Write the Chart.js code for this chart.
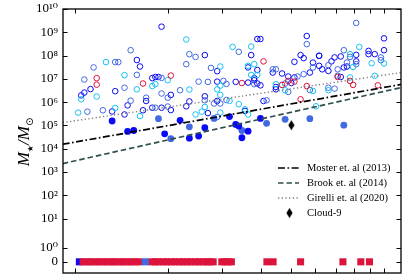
<!DOCTYPE html>
<html>
<head>
<meta charset="utf-8">
<script src="https://cdn.jsdelivr.net/npm/chart.js@4.4.1/dist/chart.umd.min.js"></script>
<style>
  html, body { margin: 0; padding: 0; background: #fff; }
</style>
</head>
<body>
<canvas id="myChart" width="417" height="276"></canvas>
<script>
// all masses are log10(M / Msun)
const openBlueHalo = [9.20, 9.21, 9.05, 9.03, 9.02, 9.13, 9.17, 9.12, 9.16, 9.22, 9.23,
    9.28, 9.42, 9.46, 9.25, 9.26, 9.27, 9.46, 9.52, 9.31, 9.42, 9.46, 9.37, 9.36, 9.28, 9.31, 9.25, 9.43,
    9.59, 9.60, 9.57, 9.73, 9.74, 9.79, 9.71, 9.77, 9.56, 9.59, 9.64, 9.67, 9.69, 9.71, 9.76, 9.58, 9.56,
    9.59, 9.60, 9.58, 9.65, 9.70, 9.65, 9.61, 9.55,
    10.00, 9.95, 9.95, 9.97, 10.00, 9.86, 9.84, 9.91, 9.79, 9.91, 9.83, 9.79, 9.80, 9.82, 9.87, 9.88, 9.86, 9.75];
const openBlueStar = [7.81, 7.53, 6.56, 6.41, 6.29, 6.47, 5.86, 5.60, 5.47, 5.65, 6.05,
    9.24, 8.02, 7.33, 7.03, 7.08, 7.08, 6.88, 6.87, 6.31, 6.25, 6.05, 6.03, 5.82, 5.76, 5.66, 5.76, 5.53,
    8.71, 8.71, 8.02, 8.02, 7.89, 7.99, 7.73, 7.70, 7.49, 7.38, 7.27, 7.23, 7.10, 7.06, 7.27, 7.03, 6.84,
    6.80, 6.72, 6.94, 6.65, 6.82, 6.55, 6.05, 5.62,
    8.74, 8.20, 8.06, 8.06, 8.23, 7.96, 7.92, 8.03, 7.99, 7.75, 7.75, 7.56, 7.41, 7.34, 7.49, 7.53, 7.08, 8.84];

const openRoyalHalo = [9.18, 9.06, 9.13, 9.14, 9.20, 9.03, 9.16, 9.18, 9.04, 9.09, 9.23,
    9.37, 9.39, 9.36, 9.44, 9.28, 9.40, 9.43, 9.48, 9.49, 9.34, 9.28, 9.30, 9.42, 9.49, 9.26, 9.30, 9.45,
    9.47, 9.46, 9.53, 9.75, 9.77, 9.64, 9.65, 9.72, 9.74, 9.58, 9.68, 9.69, 9.76, 9.62,
    9.91, 9.87, 9.89, 9.99, 9.99, 9.88, 9.91, 9.82, 9.85, 9.85, 9.84, 9.82];
const openRoyalStar = [8.23, 7.49, 7.72, 7.72, 7.17, 6.97, 6.62, 6.06, 5.59, 5.65, 6.19,
    8.06, 7.94, 7.63, 7.47, 7.04, 6.88, 6.87, 6.91, 6.78, 6.51, 6.37, 6.19, 6.08, 6.09, 5.76, 5.81, 5.94,
    5.94, 5.36, 8.16, 8.49, 7.49, 7.41, 7.41, 7.10, 7.20, 6.77, 6.80, 6.44, 6.52, 6.08,
    9.40, 8.23, 7.94, 7.92, 7.80, 7.70, 7.63, 7.59, 7.41, 7.13, 6.58, 6.62];

const openCyanHalo = [9.10, 9.16, 9.02, 9.07, 9.20, 9.01, 9.13, 9.21, 9.36, 9.47, 9.51, 9.30, 9.25,
    9.26, 9.47, 9.37, 9.46, 9.47, 9.50, 9.42, 9.39, 9.41, 9.47, 9.57, 9.56, 9.58, 9.57, 9.59, 9.65,
    9.68, 9.77, 9.53, 9.55, 9.56, 9.92, 9.89, 9.96, 10.00, 9.90, 9.89, 9.97, 9.82, 9.78];
const openCyanStar = [7.72, 7.16, 6.12, 6.24, 6.55, 5.55, 5.75, 5.40, 8.69, 7.53, 8.37, 6.94, 6.69,
    6.77, 6.71, 6.54, 6.55, 6.31, 6.05, 5.79, 5.47, 5.59, 5.55, 8.39, 7.56, 7.63, 7.17, 7.17, 6.77,
    6.51, 6.48, 5.91, 5.69, 5.47, 8.37, 8.06, 7.67, 7.66, 7.51, 7.06, 7.13, 6.51, 5.82];

const openRedHalo = [9.07, 9.07, 9.22, 9.31, 9.61, 9.54, 9.67, 9.69, 9.71, 9.75, 9.73, 9.85, 9.89, 9.90, 9.98];
const openRedStar = [7.03, 6.75, 6.80, 7.14, 7.75, 6.82, 6.74, 6.91, 6.88, 6.69, 6.12, 7.08, 6.91, 6.74, 6.72];

const filledBlueHalo = [9.12, 9.17, 9.19, 9.34, 9.42, 9.50, 9.52, 9.29, 9.37, 9.40, 9.60, 9.53, 9.56, 9.54];
const filledBlueStar = [5.19, 4.74, 4.78, 5.22, 4.90, 5.38, 5.04, 4.64, 4.45, 4.54, 5.30, 4.97, 4.75, 4.47];

const filledRoyalHalo = [9.27, 9.37, 9.45, 9.31, 9.62, 9.68, 9.76, 9.54, 9.87];
const filledRoyalStar = [5.29, 4.94, 5.30, 4.43, 5.09, 5.26, 5.29, 4.78, 5.01];

const cloud9Halo = [9.70];
const cloud9Star = [5.01];

// haloes with no stars (plotted on the "0" row)
const zeroRedHalo = [9.026, 9.040, 9.051, 9.066, 9.077, 9.092, 9.103, 9.118, 9.128, 9.143, 9.154,
    9.169, 9.180, 9.195, 9.206, 9.248, 9.260, 9.271, 9.286, 9.297, 9.312, 9.323, 9.338, 9.349,
    9.363, 9.374, 9.389, 9.400, 9.415, 9.426, 9.437, 9.447, 9.475, 9.485, 9.495, 9.506,
    9.621, 9.641, 9.730, 9.867, 9.925, 9.953];
const zeroBlueHalo = [9.014];
const zeroRoyalHalo = [9.227];

// relations, two ends of each line
const lineHalo = [8.96, 10.06];
const mosterStar = [4.19, 6.77];
const brookStar = [3.36, 6.64];
const girelliStar = [5.12, 7.28];

const legendLabels = ['Moster et. al (2013)', 'Brook et. al (2014)', 'Girelli et. al (2020)', 'Cloud-9'];

const xTickMass = [1e9, 2e9, 3e9, 4e9, 5e9, 6e9, 7e9, 8e9, 9e9, 1e10];
const yTickMass = [0, 1, 1e1, 1e2, 1e3, 1e4, 1e5, 1e6, 1e7, 1e8, 1e9, 1e10];
const yTickLabels = ['0', '10⁰', '10¹', '10²', '10³', '10⁴', '10⁵', '10⁶', '10⁷', '10⁸', '10⁹', '10¹⁰'];

// the y axis is log above 10, with 10^0 and 0 squeezed in underneath
const ZERO_AXIS = -0.86;
const ONE_AXIS = -0.26;
function massToAxis(m) {
    if (m <= 0) return ZERO_AXIS;
    const lg = Math.log10(m);
    if (lg >= 1) return lg;
    return ONE_AXIS + (1 - ONE_AXIS) * Math.max(lg, 0);
}

function pairs(halo, star) {
    const n = Math.min(halo.length, star.length);
    const out = [];
    for (let i = 0; i < n; i++) out.push({x: 10 ** halo[i], y: massToAxis(10 ** star[i])});
    return out;
}
function zeros(halo) {
    return halo.map(h => ({x: 10 ** h, y: massToAxis(0)}));
}

const BLUE = '#0a0af5';
const ROYAL = '#4169e1';
const CYAN = '#16c0f5';
const RED = '#dc143c';
const SERIF = '"Liberation Serif", "DejaVu Serif", serif';

// thin diamond marker
const diamond = document.createElement('canvas');
diamond.width = 7;
diamond.height = 11;
(function () {
    const c = diamond.getContext('2d');
    c.fillStyle = '#000';
    c.beginPath();
    c.moveTo(3.5, 0.5);
    c.lineTo(6.6, 5.5);
    c.lineTo(3.5, 10.5);
    c.lineTo(0.4, 5.5);
    c.closePath();
    c.fill();
})();

function openSet(data, color) {
    return {data: data, pointStyle: 'circle', pointRadius: 2.8, borderWidth: 1,
        borderColor: color, backgroundColor: 'rgba(0,0,0,0)'};
}
function filledSet(data, color) {
    return {data: data, pointStyle: 'circle', pointRadius: 3.4, borderWidth: 0,
        borderColor: color, backgroundColor: color};
}
function zeroSet(data, color) {
    return {data: data, pointStyle: 'rect', pointRadius: 5, borderWidth: 0,
        borderColor: color, backgroundColor: color};
}
function lineSet(label, star, color, dash, width) {
    return {label: label, data: pairs(lineHalo, star), showLine: true, pointRadius: 0,
        borderColor: color, borderDash: dash, borderWidth: width, backgroundColor: color};
}

const data = {
    datasets: [
        lineSet(legendLabels[0], mosterStar, '#000000', [7, 2.5, 1.6, 2.5], 1.7),
        lineSet(legendLabels[1], brookStar, '#2f4f4f', [5.5, 3], 1.7),
        lineSet(legendLabels[2], girelliStar, '#808080', [1.3, 2.4], 1.4),
        {label: legendLabels[3], data: pairs(cloud9Halo, cloud9Star), pointStyle: diamond, pointRadius: 5},
        filledSet(pairs(filledBlueHalo, filledBlueStar), BLUE),
        filledSet(pairs(filledRoyalHalo, filledRoyalStar), ROYAL),
        openSet(pairs(openRedHalo, openRedStar), RED),
        openSet(pairs(openCyanHalo, openCyanStar), CYAN),
        openSet(pairs(openRoyalHalo, openRoyalStar), ROYAL),
        openSet(pairs(openBlueHalo, openBlueStar), BLUE),
        zeroSet(zeros(zeroRoyalHalo), ROYAL),
        zeroSet(zeros(zeroRedHalo), RED),
        zeroSet(zeros(zeroBlueHalo), BLUE),
    ]
};

// frame with inward ticks, y title and legend
const decorations = {
    id: 'decorations',
    afterDraw(chart) {
        const {ctx, chartArea: a, scales: {x, y}} = chart;
        ctx.save();
        ctx.strokeStyle = '#000';
        ctx.lineWidth = 1;
        ctx.beginPath();
        xTickMass.forEach(v => {
            const px = Math.round(x.getPixelForValue(v)) + 0.5;
            ctx.moveTo(px, a.bottom); ctx.lineTo(px, a.bottom - 4.5);
            ctx.moveTo(px, a.top); ctx.lineTo(px, a.top + 4.5);
        });
        yTickMass.forEach(m => {
            const py = Math.round(y.getPixelForValue(massToAxis(m))) + 0.5;
            ctx.moveTo(a.left, py); ctx.lineTo(a.left + 4.5, py);
            ctx.moveTo(a.right, py); ctx.lineTo(a.right - 4.5, py);
        });
        ctx.stroke();
        ctx.lineWidth = 1.3;
        ctx.strokeRect(a.left, a.top, a.right - a.left, a.bottom - a.top);

        // y title  M_star / M_sun
        ctx.save();
        ctx.translate(29, (a.top + a.bottom) / 2 + 1);
        ctx.rotate(-Math.PI / 2);
        ctx.fillStyle = '#000';
        ctx.textBaseline = 'alphabetic';
        const big = 'italic 17px ' + SERIF;
        const parts = [['M', big, 0], ['★', '8px "DejaVu Sans"', 3.5], ['/', big, 0], ['M', big, 0], ['⊙', '10px "DejaVu Sans"', 4]];
        let total = 0;
        parts.forEach(p => { ctx.font = p[1]; total += ctx.measureText(p[0]).width; });
        let cx = -total / 2;
        parts.forEach(p => {
            ctx.font = p[1];
            ctx.fillText(p[0], cx, p[2]);
            cx += ctx.measureText(p[0]).width;
        });
        ctx.restore();

        // legend
        const lx = a.right - 123, tx = a.right - 94;
        let ly = a.bottom - 105;
        ctx.font = '10.5px ' + SERIF;
        ctx.textBaseline = 'middle';
        ctx.fillStyle = '#000';
        chart.data.datasets.forEach(ds => {
            if (!ds.label) return;
            if (ds.showLine) {
                ctx.strokeStyle = ds.borderColor;
                ctx.lineWidth = ds.borderWidth;
                ctx.setLineDash(ds.borderDash);
                ctx.beginPath();
                ctx.moveTo(lx, ly); ctx.lineTo(lx + 21, ly);
                ctx.stroke();
                ctx.setLineDash([]);
            } else {
                ctx.drawImage(diamond, lx + 8, ly - 5.5);
            }
            ctx.fillText(ds.label, tx, ly + 0.5);
            ly += 15;
        });
        ctx.restore();
    }
};

const config = {
    type: 'scatter',
    data: data,
    options: {
        responsive: false,
        animation: false,
        layout: {padding: {top: 9, right: 16, left: 0, bottom: 0}, autoPadding: false},
        plugins: {legend: {display: false}, tooltip: {enabled: false}},
        scales: {
            x: {
                type: 'logarithmic',
                min: 10 ** 8.961,
                max: 10 ** 10.055,
                afterBuildTicks: s => { s.ticks = xTickMass.map(v => ({value: v})); },
                afterFit: s => {
                    s.height = 3;
                    s.paddingLeft = s.paddingRight = s.paddingTop = s.paddingBottom = 0;
                },
                ticks: {display: false},
                grid: {display: false, drawTicks: false},
                border: {display: false},
            },
            y: {
                type: 'linear',
                min: -1.34,
                max: 10,
                afterBuildTicks: s => { s.ticks = yTickMass.map(m => ({value: massToAxis(m)})); },
                afterFit: s => {
                    s.width = 63;
                    s.paddingLeft = s.paddingRight = s.paddingTop = s.paddingBottom = 0;
                },
                ticks: {
                    autoSkip: false,
                    padding: 5,
                    color: '#000',
                    font: {family: SERIF, size: 13},
                    callback: (v, i) => yTickLabels[i],
                },
                grid: {display: false, drawTicks: false},
                border: {display: false},
            }
        }
    },
    plugins: [decorations]
};

const myChart = new Chart(document.getElementById('myChart'), config);
</script>
</body>
</html>
